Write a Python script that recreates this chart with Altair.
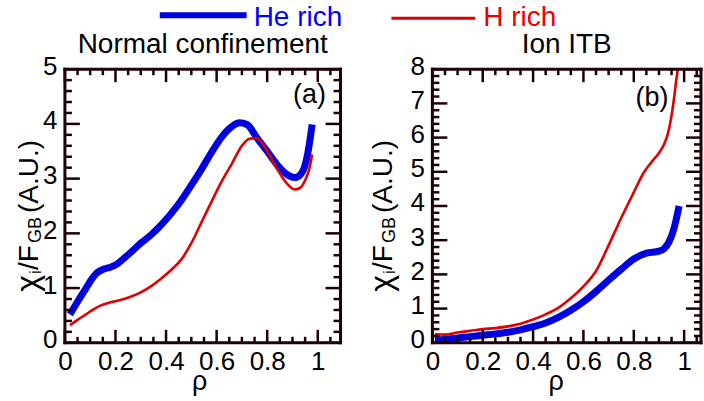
import altair as alt
import pandas as pd

FONT = "Liberation Sans"
BLUE = "#0000e0"
RED = "#e00000"
INK = "#000000"
FRAME = "#1c0004"

# ---------------- data: panel (a) Normal confinement ----------------
a_he_rho = [0.02, 0.05, 0.08, 0.10, 0.125, 0.15, 0.18, 0.20, 0.23, 0.26, 0.30, 0.34, 0.38, 0.42, 0.46,
            0.50, 0.54, 0.58, 0.62, 0.66, 0.69, 0.72, 0.76, 0.80, 0.84, 0.88, 0.91, 0.94, 0.96, 0.978]
a_he_chi = [0.52, 0.75, 0.97, 1.12, 1.27, 1.34, 1.38, 1.42, 1.53, 1.65, 1.82, 1.97, 2.15, 2.36, 2.60,
            2.88, 3.17, 3.48, 3.76, 3.95, 4.02, 3.99, 3.74, 3.50, 3.25, 3.07, 3.02, 3.13, 3.45, 3.99]
a_h_rho = [0.02, 0.05, 0.08, 0.11, 0.14, 0.18, 0.22, 0.26, 0.30, 0.34, 0.38, 0.42, 0.46, 0.50, 0.54,
           0.58, 0.62, 0.66, 0.70, 0.73, 0.76, 0.80, 0.84, 0.88, 0.91, 0.93, 0.95, 0.965, 0.978]
a_h_chi = [0.32, 0.42, 0.51, 0.60, 0.68, 0.74, 0.78, 0.84, 0.92, 1.03, 1.17, 1.33, 1.52, 1.82, 2.20,
           2.58, 2.95, 3.27, 3.60, 3.73, 3.74, 3.50, 3.17, 2.90, 2.80, 2.83, 2.97, 3.15, 3.44]

# ---------------- data: panel (b) Ion ITB ----------------
b_he_rho = [0.01, 0.05, 0.10, 0.15, 0.20, 0.25, 0.30, 0.35, 0.40, 0.45, 0.50, 0.55, 0.60, 0.65, 0.70,
            0.75, 0.80, 0.85, 0.90, 0.92, 0.94, 0.96, 0.98]
b_he_chi = [0.08, 0.10, 0.14, 0.18, 0.22, 0.26, 0.31, 0.38, 0.47, 0.58, 0.74, 0.95, 1.20, 1.50, 1.83,
            2.15, 2.45, 2.62, 2.68, 2.75, 2.95, 3.35, 4.00]
b_h_rho = [0.01, 0.05, 0.10, 0.15, 0.20, 0.25, 0.30, 0.35, 0.40, 0.45, 0.50, 0.55, 0.60, 0.65, 0.70,
           0.75, 0.80, 0.84, 0.87, 0.90, 0.92, 0.935, 0.95, 0.96, 0.97, 0.975]
b_h_chi = [0.25, 0.24, 0.30, 0.35, 0.40, 0.43, 0.48, 0.56, 0.68, 0.83, 1.02, 1.30, 1.65, 2.10, 2.85,
           3.65, 4.40, 4.98, 5.28, 5.55, 5.80, 6.10, 6.65, 7.15, 7.75, 8.00]

# ---------------- tick values / labels ----------------
x_labels = [0, 0.2, 0.4, 0.6, 0.8, 1]
x_major = [0, 0.2, 0.4, 0.6, 0.8, 1.0]
x_minor = [0.05, 0.1, 0.15, 0.25, 0.3, 0.35, 0.45, 0.5, 0.55, 0.65, 0.7, 0.75,
           0.85, 0.9, 0.95, 1.05]
a_y_labels = [0, 1, 2, 3, 4, 5]
b_y_labels = [0, 1, 2, 3, 4, 5, 6, 7, 8]
a_y_minor = [v / 10 for v in range(2, 50, 2) if v % 10 != 0]
b_y_minor = [v / 10 for v in range(2, 80, 2) if v % 10 != 0]

series_names = ["He rich", "H rich"]
titles = ["Normal confinement", "Ion ITB"]
tags = ["(a)", "(b)"]


def one(text):
    return pd.DataFrame({"t": [text]})


def txt(text, x, y, size, color=INK, angle=0, align="center", baseline="alphabetic"):
    return alt.Chart(one(text)).mark_text(
        font=FONT, fontSize=size, color=color, angle=angle, align=align, baseline=baseline
    ).encode(text="t:N", x=alt.value(x), y=alt.value(y))


def seg(x1, x2, y1, y2, color, width):
    return alt.Chart(one("")).mark_rule(color=color, strokeWidth=width).encode(
        x=alt.value(x1), x2=alt.value(x2), y=alt.value(y1), y2=alt.value(y2))


def tick_table(W, H, xmax, ymax, y_major, y_minor):
    """Inward ticks of all four sides as segments in data units."""
    kx = xmax / W
    ky = ymax / H
    segs = []
    for vals, L in ((x_major, 13), (x_minor, 6)):
        for v in vals:
            segs.append((v, v, 0, L * ky))
            segs.append((v, v, ymax, ymax - L * ky))
    for vals, L in ((y_major, 15), (y_minor, 7)):
        for v in vals:
            segs.append((0, L * kx, v, v))
            segs.append((xmax, xmax - L * kx, v, v))
    return pd.DataFrame(segs, columns=["xa", "xb", "ya", "yb"])


def frame_table(xmax, ymax):
    return pd.DataFrame({
        "xa": [0, 0, 0, xmax], "xb": [xmax, xmax, 0, xmax],
        "ya": [0, ymax, 0, 0], "yb": [0, ymax, ymax, ymax],
    })


def panel(W, H, xmax, ymax, he_x, he_y, h_x, h_y, y_labels, y_minor, title, tag, tag_x, tag_y,
          rho_x, ytitle_x, extra):
    xs = alt.Scale(domain=[0, xmax], nice=False, zero=False)
    ys = alt.Scale(domain=[0, ymax], nice=False, zero=False)
    xaxis = alt.Axis(values=x_labels, format="~g", ticks=False, tickSize=0, domain=False, grid=False,
                     labelFont=FONT, labelFontSize=26, labelColor=INK, labelPadding=6,
                     labelFlush=False, labelOverlap=False, title=None)
    yaxis = alt.Axis(values=y_labels, format="~g", ticks=False, tickSize=0, domain=False, grid=False,
                     labelFont=FONT, labelFontSize=26, labelColor=INK, labelPadding=8,
                     labelOffset=-3, labelFlush=False, labelOverlap=False, title=None)

    he = pd.DataFrame({"rho": he_x, "chi": he_y})
    hh = pd.DataFrame({"rho": h_x, "chi": h_y})
    blue = alt.Chart(he).mark_line(color=BLUE, strokeWidth=7, interpolate="monotone").encode(
        x=alt.X("rho:Q", scale=xs, axis=xaxis), y=alt.Y("chi:Q", scale=ys, axis=yaxis))
    red = alt.Chart(hh).mark_line(color=RED, strokeWidth=2.6, interpolate="monotone").encode(
        x=alt.X("rho:Q", scale=xs, axis=xaxis), y=alt.Y("chi:Q", scale=ys, axis=yaxis))

    ticks = alt.Chart(tick_table(W, H, xmax, ymax, y_labels, y_minor)).mark_rule(
        color=FRAME, strokeWidth=2.5
    ).encode(
        x=alt.X("xa:Q", scale=xs, axis=xaxis), x2="xb:Q",
        y=alt.Y("ya:Q", scale=ys, axis=yaxis), y2="yb:Q",
    )
    frame = alt.Chart(frame_table(xmax, ymax)).mark_rule(
        color=FRAME, strokeWidth=3, strokeCap="square"
    ).encode(
        x=alt.X("xa:Q", scale=xs, axis=xaxis), x2="xb:Q",
        y=alt.Y("ya:Q", scale=ys, axis=yaxis), y2="yb:Q",
    )

    layers = [blue, red, ticks, frame]

    # titles and labels
    layers.append(txt(title, W / 2, -16, 28))
    layers.append(txt(tag, tag_x, tag_y, 27, baseline="middle"))
    layers.append(txt("ρ", rho_x, 321, 27))
    # y-axis title built from pieces (subscripts)
    bx = ytitle_x
    layers.append(txt("χ", bx, 223, 32, angle=270, align="left"))
    layers.append(txt("i", bx + 3, 205, 17, angle=270, align="left"))
    layers.append(txt("/F", bx, 201, 28, angle=270, align="left"))
    layers.append(txt("GB", bx + 3, 174, 18, angle=270, align="left"))
    layers.append(txt("(A.U.)", bx, 144, 28, angle=270, align="left"))
    layers += extra
    return alt.layer(*layers).properties(width=W, height=H)


def anchor(x, y):
    return alt.Chart(one("")).mark_rect(opacity=0).encode(
        x=alt.value(x), x2=alt.value(x + 1), y=alt.value(y), y2=alt.value(y + 1))


left_extra = [
    seg(95, 182, -54, -54, BLUE, 6),
    txt(series_names[0], 189, -51, 28, color="#0000ff", align="left", baseline="middle"),
    seg(327, 411, -51, -51, RED, 3),
    txt(series_names[1], 419, -51, 28, color="#ee0000", align="left", baseline="middle"),
    anchor(-65, -69),
]
right_extra = [anchor(704 - 433 - 1, 401 - 69 - 1)]

left = panel(276, 274, 1.09, 5, a_he_rho, a_he_chi, a_h_rho, a_h_chi, a_y_labels, a_y_minor,
             titles[0], tags[0], 245, 26, 135, -27, left_extra)
right = panel(269, 274, 1.067, 8, b_he_rho, b_he_chi, b_h_rho, b_h_chi, b_y_labels, b_y_minor,
              titles[1], tags[1], 220, 29, 124, -40, right_extra)

chart = alt.hconcat(left, right, spacing=92, bounds="flush").properties(
    padding=0
).configure(font=FONT).configure_view(strokeWidth=0)

chart.save("out.html", embed_options={"renderer": "svg", "actions": False})
